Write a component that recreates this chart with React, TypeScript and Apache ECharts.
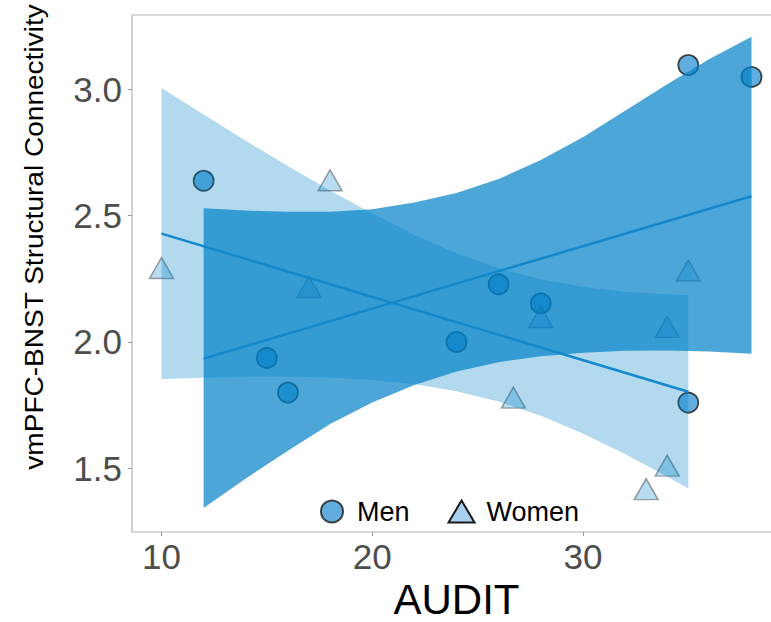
import React, { useEffect, useRef } from 'react';
import * as echarts from 'echarts';

const xTicks = [10, 20, 30];
const yTicks = [1.5, 2.0, 2.5, 3.0];

const menX = [12, 15, 16, 24, 26, 28, 35, 35, 38];
const menY = [2.638, 1.937, 1.8, 2.0, 2.228, 2.153, 1.76, 3.096, 3.049];
const womenX = [10, 17, 18, 26.7, 28, 33, 34, 34, 35];
const womenY = [2.279, 2.204, 2.626, 1.766, 2.085, 1.404, 1.497, 2.046, 2.269];

const menFitX = [12, 38];
const menFitY = [1.934, 2.577];
const womenFitX = [10, 35];
const womenFitY = [2.429, 1.803];

const menBandX = [12, 14, 16, 18, 20, 22, 24, 26, 28, 30, 32, 34, 36, 38];
const menBandUpper = [2.529, 2.52, 2.515, 2.515, 2.525, 2.552, 2.59, 2.645, 2.72, 2.81, 2.915, 3.02, 3.12, 3.208];
const menBandLower = [1.343, 1.46, 1.57, 1.675, 1.76, 1.83, 1.883, 1.92, 1.944, 1.957, 1.965, 1.966, 1.962, 1.953];

const womenBandX = [10, 12, 14, 16, 18, 20, 22, 24, 26, 28, 30, 32, 34, 35];
const womenBandUpper = [3.005, 2.9, 2.796, 2.696, 2.599, 2.508, 2.423, 2.351, 2.292, 2.248, 2.218, 2.199, 2.189, 2.186];
const womenBandLower = [1.853, 1.858, 1.862, 1.862, 1.859, 1.85, 1.833, 1.805, 1.764, 1.708, 1.638, 1.557, 1.467, 1.42];

const FONT = '"Liberation Sans", Arial, sans-serif';

function bandSeries(name: string, xs: number[], lo: number[], hi: number[], color: string, z: number) {
  return {
    type: 'custom',
    name,
    z,
    silent: true,
    clip: true,
    data: xs.map((x, i) => [x, lo[i], hi[i]]),
    encode: { x: 0, y: [1, 2] },
    renderItem: (params: any, api: any) => {
      if (params.dataIndex !== 0) return null;
      const pts: number[][] = [];
      for (let i = 0; i < xs.length; i++) pts.push(api.coord([xs[i], hi[i]]));
      for (let i = xs.length - 1; i >= 0; i--) pts.push(api.coord([xs[i], lo[i]]));
      return { type: 'polygon', shape: { points: pts }, style: { fill: color } };
    },
  };
}

export default function App() {
  const ref = useRef<HTMLDivElement>(null);
  useEffect(() => {
    if (!ref.current) return;
    const chart = echarts.init(ref.current, undefined, { renderer: 'svg' });
    chart.setOption({
      animation: false,
      backgroundColor: '#ffffff',
      grid: {
        left: 132,
        top: 15,
        right: -10,
        bottom: 90,
        containLabel: false,
        outerBoundsMode: 'none',
        show: true,
        borderColor: '#b3b3b3',
        borderWidth: 1.2,
        backgroundColor: 'transparent',
      },
      xAxis: {
        type: 'value',
        min: 8.6,
        max: 39.4,
        splitNumber: 3,
        axisLine: { show: false },
        axisTick: { show: true, length: 4, lineStyle: { color: '#999' }, customValues: xTicks },
        axisLabel: {
          customValues: xTicks,
          fontSize: 35,
          color: '#4d4d4d',
          margin: 7,
          fontFamily: FONT,
        },
        splitLine: { show: false },
        name: 'AUDIT',
        nameLocation: 'middle',
        nameGap: 46,
        nameTextStyle: { fontSize: 42, color: '#000', fontFamily: FONT },
      },
      yAxis: {
        type: 'value',
        min: 1.248,
        max: 3.294,
        splitNumber: 4,
        axisLine: { show: false },
        axisTick: { show: true, length: 4, lineStyle: { color: '#999' }, customValues: yTicks },
        axisLabel: {
          customValues: yTicks,
          fontSize: 35,
          color: '#4d4d4d',
          margin: 10,
          fontFamily: FONT,
          formatter: (v: number) => v.toFixed(1),
        },
        splitLine: { show: false },
      },
      legend: {
        left: 315,
        top: 493,
        itemWidth: 26,
        itemHeight: 22,
        itemGap: 38,
        textStyle: { fontSize: 27, color: '#000', fontFamily: FONT, padding: [0, 0, 0, 7] },
        data: [
          { name: 'Men', icon: 'circle', itemStyle: { color: '#3a9ad6', borderColor: '#1a1a1a', borderWidth: 2 } },
          { name: 'Women', icon: 'triangle', itemStyle: { color: '#a9d0ec', borderColor: '#1a1a1a', borderWidth: 2, opacity: 1 } },
        ],
      },
      graphic: [
        {
          type: 'text',
          x: 34.5,
          y: 237,
          rotation: Math.PI / 2,
          scaleX: 1.1,
          style: {
            text: 'vmPFC-BNST Structural Connectivity',
            font: '25.5px ' + FONT,
            fill: '#000',
            align: 'center',
            verticalAlign: 'middle',
          },
        },
      ],
      series: [
        {
          type: 'scatter',
          name: 'Men',
          z: 1,
          symbol: 'circle',
          symbolSize: 20,
          data: menX.map((x, i) => [x, menY[i]]),
          itemStyle: { color: '#3a9ad6', borderColor: '#1a1a1a', borderWidth: 1.8 },
        },
        {
          type: 'scatter',
          name: 'Women',
          z: 1,
          symbol: 'triangle',
          symbolSize: [24, 21],
          symbolOffset: [0, -3.5],
          data: womenX.map((x, i) => [x, womenY[i]]),
          itemStyle: { color: 'rgba(0,128,200,0.35)', borderColor: 'rgba(30,30,30,0.5)', borderWidth: 1.5 },
        },
        bandSeries('Women CI', womenBandX, womenBandLower, womenBandUpper, 'rgba(0,128,200,0.3)', 2),
        bandSeries('Men CI', menBandX, menBandLower, menBandUpper, 'rgba(0,128,200,0.7)', 3),
        {
          type: 'line',
          name: 'Men fit',
          z: 4,
          silent: true,
          showSymbol: false,
          data: menFitX.map((x, i) => [x, menFitY[i]]),
          lineStyle: { color: '#1488cc', width: 2.5 },
        },
        {
          type: 'line',
          name: 'Women fit',
          z: 4,
          silent: true,
          showSymbol: false,
          data: womenFitX.map((x, i) => [x, womenFitY[i]]),
          lineStyle: { color: '#1488cc', width: 2.5 },
        },
      ],
    });
    return () => chart.dispose();
  }, []);
  return (
    <div
      ref={ref}
      style={{ position: 'absolute', left: 0, top: 0, width: 771, height: 622 }}
    />
  );
}
